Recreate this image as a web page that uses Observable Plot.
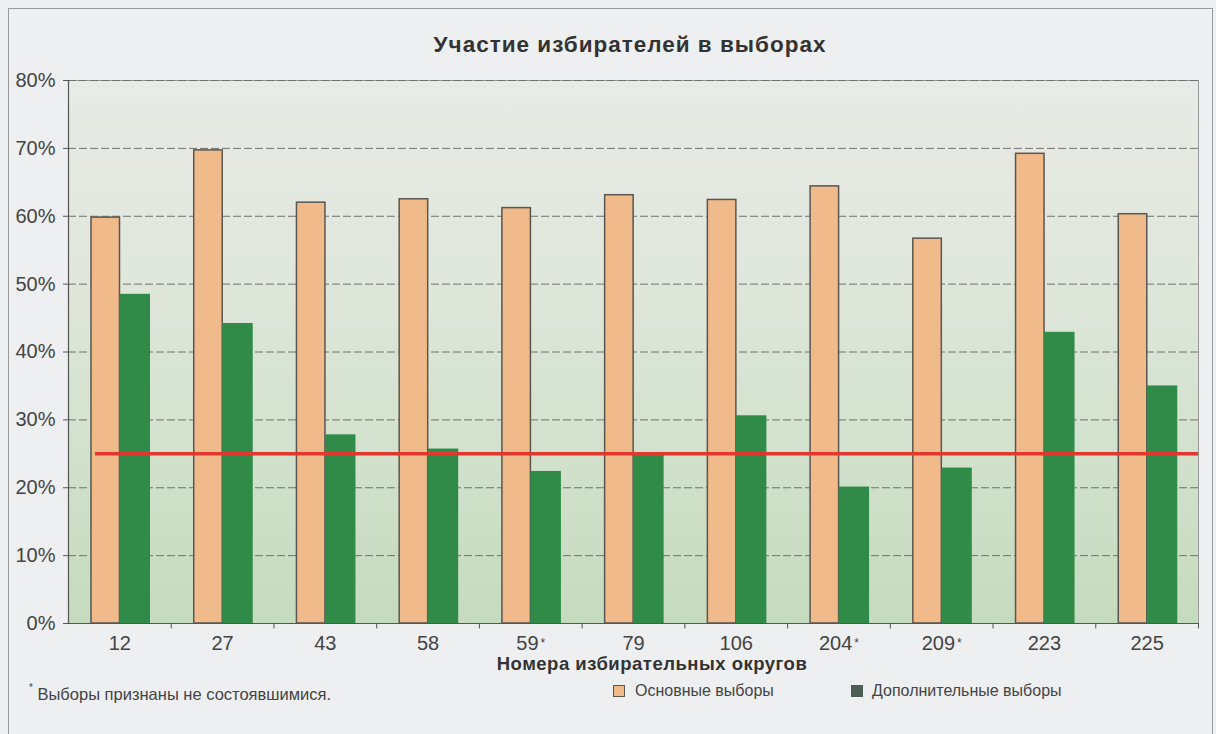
<!DOCTYPE html>
<html><head><meta charset="utf-8">
<script src="https://cdn.jsdelivr.net/npm/d3@7"></script>
<script src="https://cdn.jsdelivr.net/npm/@observablehq/plot@0.6"></script>
<style>
body{margin:0;background:#eeeff1;font-family:"Liberation Sans",Arial,sans-serif;}
#card{position:relative;width:1216px;height:734px;overflow:hidden;background:#eeeff1;}
#border{position:absolute;left:8px;top:8px;width:1205px;height:740px;border:1px solid #9a9a9a;box-sizing:border-box;}
#title{position:absolute;left:0;width:1260px;top:32px;line-height:26px;text-align:center;font-weight:bold;font-size:22.5px;letter-spacing:1px;color:#333;}
#chart{position:absolute;left:0;top:60px;}
#xlabel{position:absolute;left:68px;width:1168px;top:656px;line-height:15px;text-align:center;font-weight:bold;font-size:18.5px;letter-spacing:0.5px;color:#333;}
#note{position:absolute;left:29px;top:680px;line-height:20px;font-size:16.5px;color:#444;}
#note sup{font-size:10px;position:relative;top:-2px;}
.leg{position:absolute;top:681px;line-height:20px;font-size:16px;color:#444;}
.sw{position:absolute;width:10px;height:10px;top:685px;}
</style></head><body>
<div id="card">
<div id="border"></div>
<div id="title">Участие избирателей в выборах</div>
<div id="chart"></div>
<div id="xlabel">Номера избирательных округов</div>
<div id="note"><sup>*</sup> Выборы признаны не состоявшимися.</div>
<div class="sw" id="sw0" style="left:613px;"></div>
<div class="leg" id="lg0" style="left:635px;"></div>
<div class="sw" id="sw1" style="left:851px;"></div>
<div class="leg" id="lg1" style="left:872px;"></div>
</div>
<script>
// ---- data ----
const districts = ["12","27","43","58","59","79","106","204","209","223","225"];
const starred = ["59","204","209"];
const mainTurnout = [59.8,69.7,62.0,62.5,61.2,63.1,62.4,64.4,56.7,69.2,60.3];
const extraTurnout = [48.5,44.2,27.8,25.7,22.4,25.2,30.6,20.1,22.9,42.9,35.0];
const threshold = [25];
const yTicks = [0,10,20,30,40,50,60,70,80];
const seriesNames = ["Основные выборы","Дополнительные выборы"];
const seriesColors = ["#f0ba8b","#2f8b47"];

// ---- layout ----
const W = 1216, H = 610, mL = 68, mR = 18, mT = 20, mB = 47;
const step = (W - mL - mR) / districts.length;

const mainRows = districts.map((d,i)=>({district:d, value:mainTurnout[i]}));
const extraRows = districts.map((d,i)=>({district:d, value:extraTurnout[i]}));

const plot = Plot.plot({
  width: W, height: H,
  marginLeft: mL, marginRight: mR, marginTop: mT, marginBottom: mB,
  style: {fontFamily: '"Liberation Sans", Arial, sans-serif', fontSize: "20px", color: "#444", background: "transparent"},
  x: {domain: districts, type: "band", paddingInner: 0, paddingOuter: 0, round: false, label: null},
  y: {domain: [0, 80], label: null},
  marks: [
    Plot.frame({fill: "url(#bgGrad)", stroke: "#999"}),
    Plot.ruleY(yTicks.filter(t => t > 0), {stroke: "#707070", strokeWidth: 1, strokeDasharray: "8,3"}),
    Plot.barY(mainRows, {x: "district", y: "value", fill: seriesColors[0], stroke: "#5a5650", strokeWidth: 1.5,
      insetLeft: 23, insetRight: step - 51.5}),
    Plot.barY(extraRows, {x: "district", y: "value", fill: seriesColors[1],
      insetLeft: 51.5, insetRight: step - 82}),
    Plot.ruleY(threshold, {stroke: "#e1372f", strokeWidth: 3.5, insetLeft: 27}),
    Plot.ruleY([0], {stroke: "#555", strokeWidth: 1.2}),
    Plot.ruleX([districts[0]], {dx: -step/2, stroke: "#555", strokeWidth: 1.2}),
    Plot.ruleX(districts, {x: d => d, dx: step/2, y1: 0, y2: -0.8, stroke: "#555"}),
    Plot.axisY({ticks: yTicks, tickSize: 5, tickPadding: 8, tickFormat: d => d + "%", stroke: "#555", fontSize: 20}),
    Plot.axisX({tickSize: 0, tickPadding: 12, fontSize: 20,
      tickFormat: d => starred.includes(d) ? d + "*" : d})
  ]
});

// gradient background of plot area
const ns = "http://www.w3.org/2000/svg";
const defs = document.createElementNS(ns, "defs");
const lg = document.createElementNS(ns, "linearGradient");
lg.setAttribute("id", "bgGrad"); lg.setAttribute("x1", "0"); lg.setAttribute("y1", "0");
lg.setAttribute("x2", "0"); lg.setAttribute("y2", "1");
[["0%","#e9ebe6"],["35%","#e0e7dc"],["70%","#d1e1cc"],["100%","#c5dbbe"]].forEach(([o,c])=>{
  const s = document.createElementNS(ns, "stop");
  s.setAttribute("offset", o); s.setAttribute("stop-color", c); lg.appendChild(s);
});
defs.appendChild(lg);
plot.insertBefore(defs, plot.firstChild);

// small raised asterisk on starred district labels
plot.querySelectorAll('g[aria-label="x-axis tick label"] text').forEach(t => {
  const s = t.textContent;
  if (s.endsWith("*")) {
    t.textContent = s.slice(0, -1);
    const sp = document.createElementNS(ns, "tspan");
    sp.setAttribute("font-size", "12px");
    sp.setAttribute("dx", "2");
    sp.setAttribute("dy", "-0.2em");
    sp.textContent = "*";
    t.appendChild(sp);
  }
});
document.getElementById("chart").appendChild(plot);

// legend
document.getElementById("lg0").textContent = seriesNames[0];
document.getElementById("lg1").textContent = seriesNames[1];
const s0 = document.getElementById("sw0");
s0.style.background = seriesColors[0]; s0.style.border = "1.5px solid #5a5650";
const s1 = document.getElementById("sw1");
s1.style.background = "#4d5e55"; s1.style.border = "1.5px solid #4d5e55";
</script>
</body></html>
